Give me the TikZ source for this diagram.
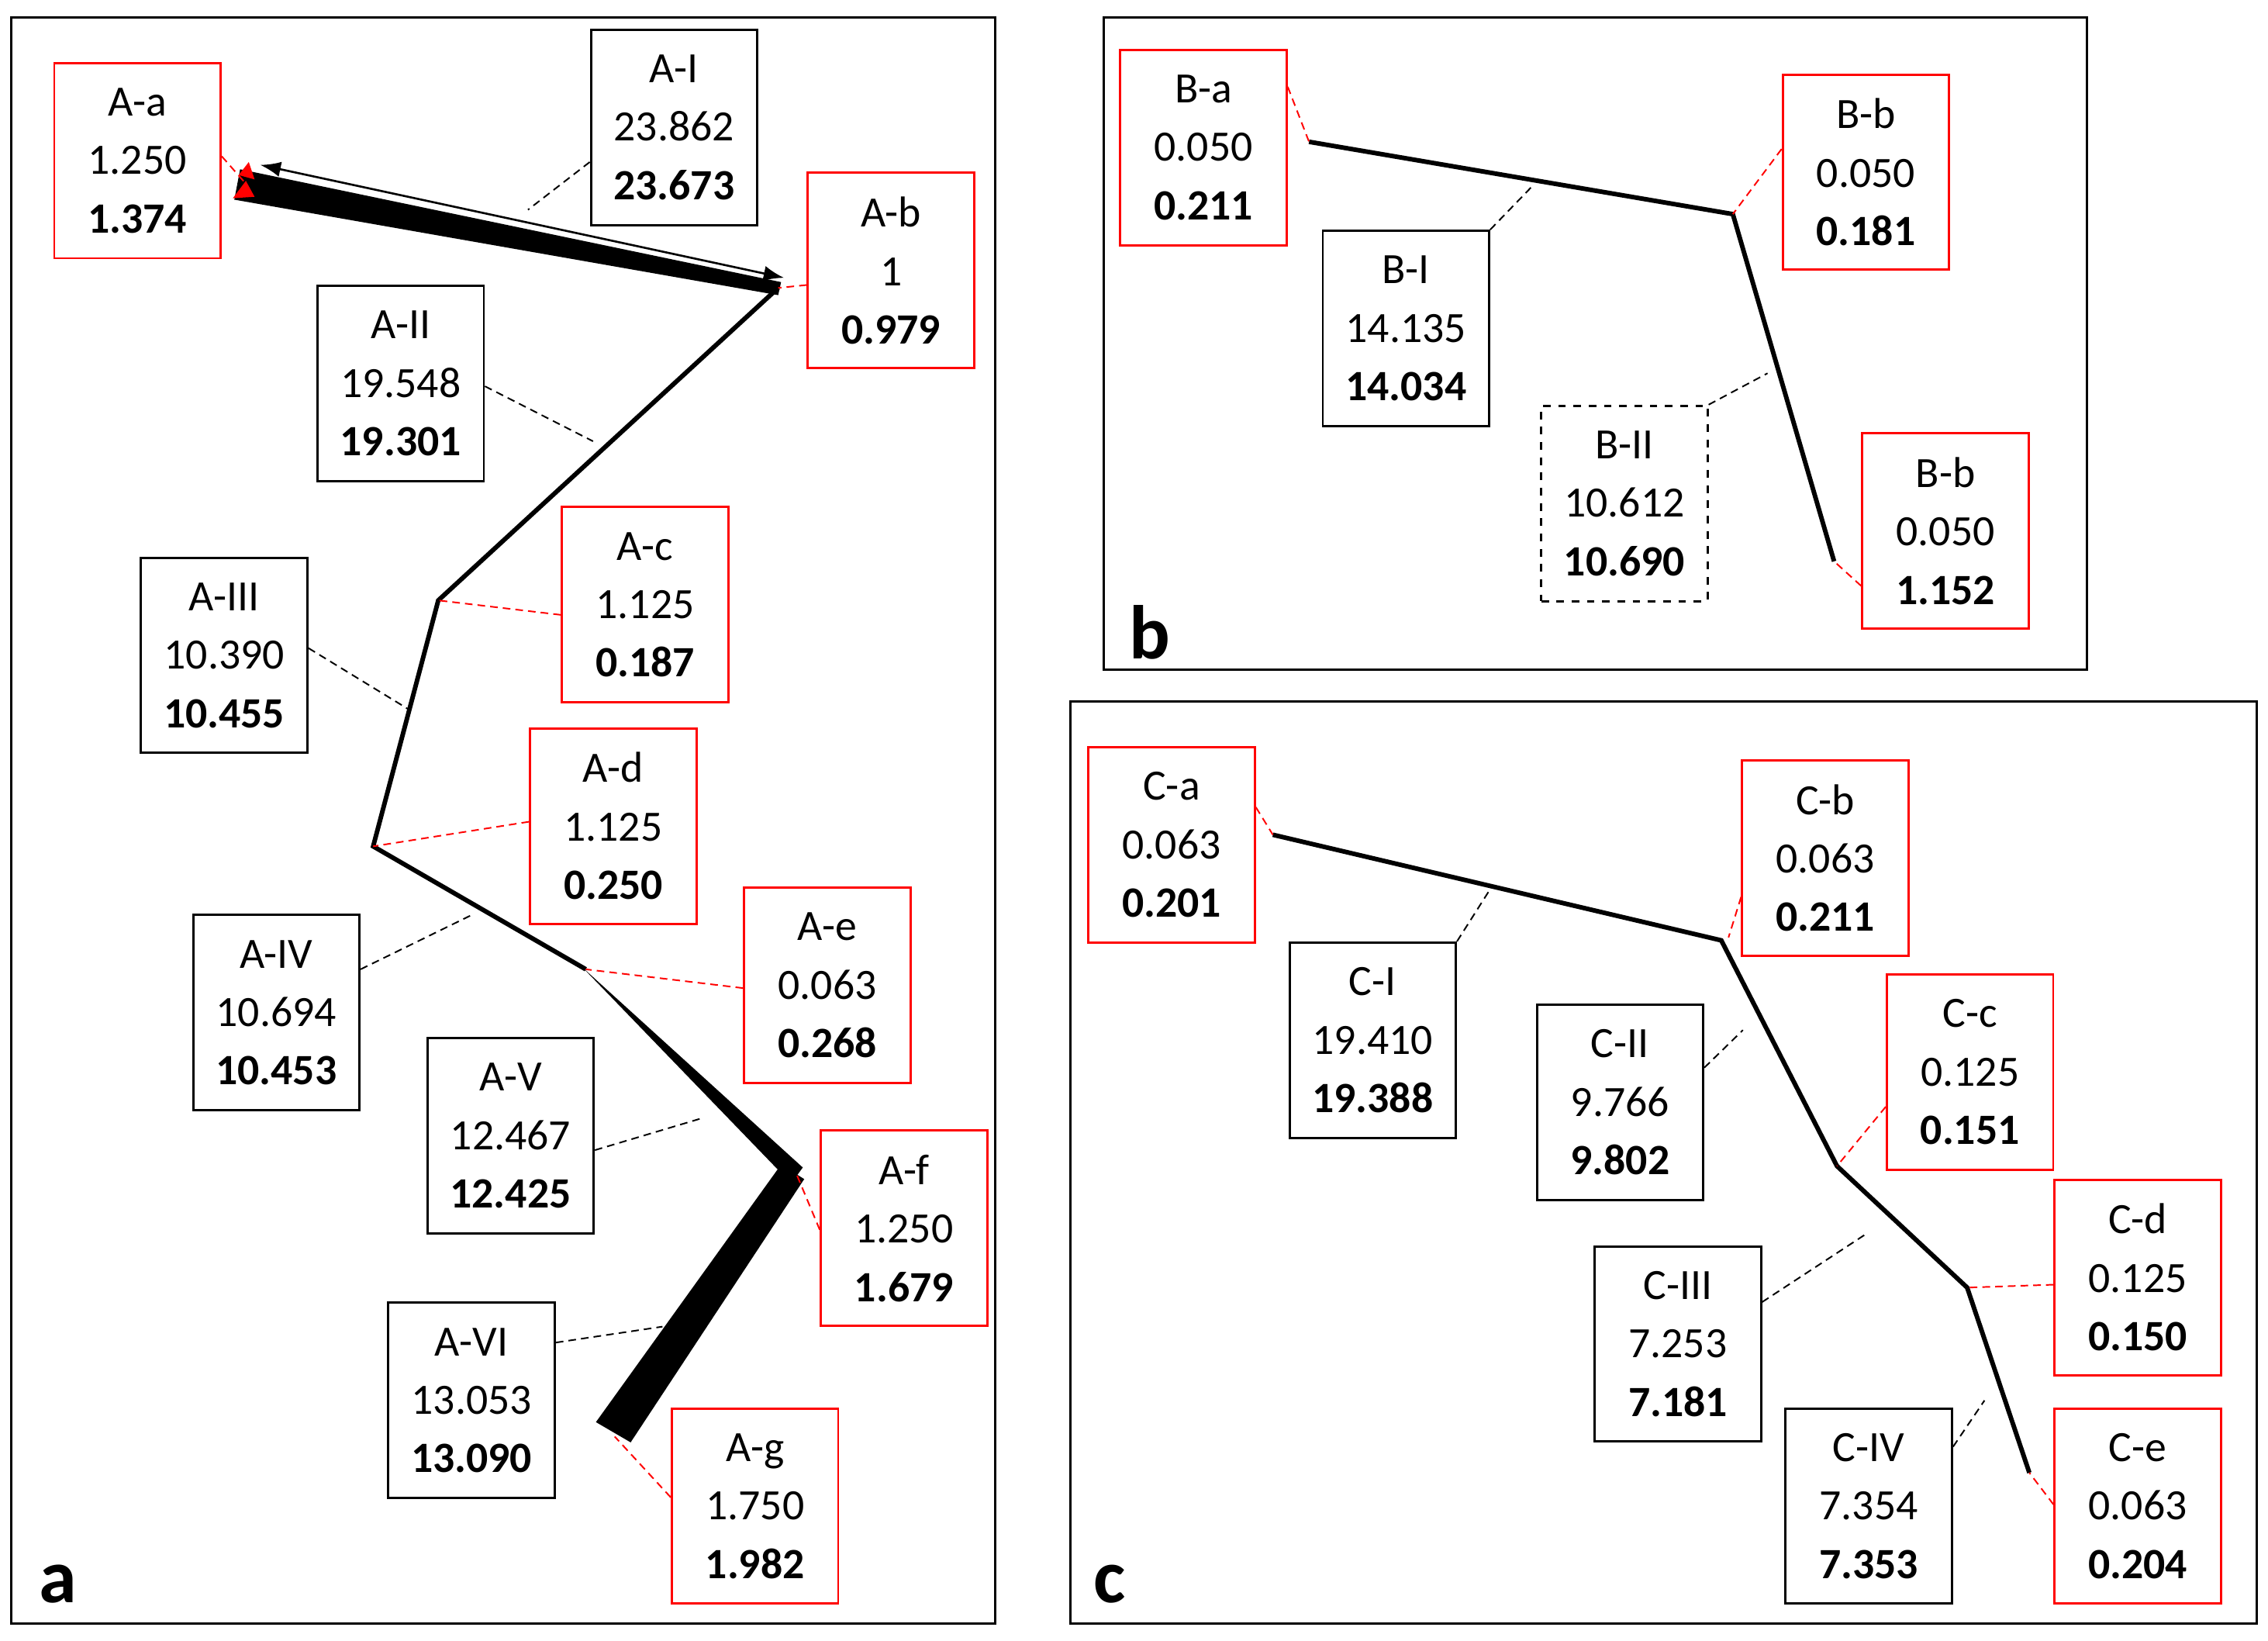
\documentclass[tikz,border=0pt]{standalone}
\usepackage{fontspec}
\setmainfont{Carlito}
\usetikzlibrary{positioning, arrows.meta}

\tikzset{
    box/.style={draw, line width=0.9pt, minimum width=2.3cm, minimum height=2.7cm, align=center, font=\fontsize{17}{23}\selectfont},
    rbox/.style={box, draw=red},
    lead/.style={densely dashed, line width=0.6pt},
    rlead/.style={lead, red},
    route/.style={line width=1.8pt},
    frame/.style={draw, line width=0.9pt},
}
\newcommand{\lbl}[3]{#1\\#2\\\textbf{#3}}

\begin{document}
\begin{tikzpicture}[x=0.02cm, y=-0.02cm]
    \useasboundingbox (0,0) rectangle (1568,1134);
    % frames
    \draw[frame] (8,12) rectangle (688,1122);
    \draw[frame] (763,12) rectangle (1443,463);
    \draw[frame] (740,485) rectangle (1560,1122);
    \node[font=\fontsize{30}{30}\selectfont\bfseries] (la) at (40,1095) {a};
    \node[font=\fontsize{30}{30}\selectfont\bfseries] (lb) at (795,437) {b};
    \node[font=\fontsize{30}{30}\selectfont\bfseries] (lc) at (767,1095) {c};

    % panel a
    \coordinate (pa1) at (170,127);
    \coordinate (pa2) at (538,199);
    \coordinate (pa3) at (303,415);
    \coordinate (pa4) at (258,585);
    \coordinate (pa5) at (405,670);
    \coordinate (pa6) at (550,810);
    \coordinate (pa7) at (425,990);
    \fill (166,117) -- (540,195) -- (538,204) -- (162,138) -- cycle;
    \draw[line width=0.8pt, {Latex[length=8pt]}-{Latex[length=8pt]}] (180,114) -- (542,192);
    \fill[red] (172,112) -- (176,124) -- (165,121) -- cycle;
    \fill[red] (170,125) -- (176,136) -- (161,137) -- cycle;
    \draw[route] (pa2) -- (pa3) -- (pa4) -- (pa5);
    \fill (403,669) -- (555,807) -- (547,818) -- cycle;
    \fill (540,805) -- (556,815) -- (436,997) -- (412,983) -- cycle;

    \node[rbox] (Aa) at (95,111) {\lbl{A-a}{1.250}{1.374}};
    \node[box] (AI) at (466,88) {\lbl{A-I}{23.862}{23.673}};
    \node[rbox] (Ab) at (616,187) {\lbl{A-b}{1}{0.979}};
    \node[box] (AII) at (277,265) {\lbl{A-II}{19.548}{19.301}};
    \node[rbox] (Ac) at (446,418) {\lbl{A-c}{1.125}{0.187}};
    \node[box] (AIII) at (155,453) {\lbl{A-III}{10.390}{10.455}};
    \node[rbox] (Ad) at (424,571) {\lbl{A-d}{1.125}{0.250}};
    \node[rbox] (Ae) at (572,681) {\lbl{A-e}{0.063}{0.268}};
    \node[box] (AIV) at (191,700) {\lbl{A-IV}{10.694}{10.453}};
    \node[box] (AV) at (353,785) {\lbl{A-V}{12.467}{12.425}};
    \node[rbox] (Af) at (625,849) {\lbl{A-f}{1.250}{1.679}};
    \node[box] (AVI) at (326,968) {\lbl{A-VI}{13.053}{13.090}};
    \node[rbox] (Ag) at (522,1041) {\lbl{A-g}{1.750}{1.982}};

    \coordinate (qa1) at (365,145);
    \coordinate (qa2) at (410,305);
    \coordinate (qa3) at (282,490);
    \coordinate (qa4) at (325,633);
    \coordinate (qa5) at (485,773);
    \coordinate (qa6) at (458,917);
    \draw[rlead] (Aa.east |- 0,108) -- (pa1);
    \draw[lead] (AI.west |- 0,112) -- (qa1);
    \draw[rlead] (Ab.west |- 0,197) -- (pa2);
    \draw[lead] (AII.east |- 0,267) -- (qa2);
    \draw[rlead] (Ac.west |- 0,425) -- (pa3);
    \draw[lead] (AIII.east |- 0,448) -- (qa3);
    \draw[rlead] (Ad.west |- 0,568) -- (pa4);
    \draw[lead] (AIV.east |- 0,670) -- (qa4);
    \draw[rlead] (Ae.west |- 0,683) -- (pa5);
    \draw[lead] (AV.east |- 0,795) -- (qa5);
    \draw[rlead] (Af.west |- 0,850) -- (pa6);
    \draw[lead] (AVI.east |- 0,928) -- (qa6);
    \draw[rlead] (Ag.west |- 0,1035) -- (425,993);

    % panel b
    \coordinate (pb1) at (905,98);
    \coordinate (pb2) at (1198,148);
    \coordinate (pb3) at (1268,388);
    \draw[route] (pb1) -- (pb2) -- (pb3);
    \node[rbox] (Ba) at (832,102) {\lbl{B-a}{0.050}{0.211}};
    \node[rbox] (Bb) at (1290,119) {\lbl{B-b}{0.050}{0.181}};
    \node[box] (BI) at (972,227) {\lbl{B-I}{14.135}{14.034}};
    \node[box, dashed] (BII) at (1123,348) {\lbl{B-II}{10.612}{10.690}};
    \node[rbox] (Bc) at (1345,367) {\lbl{B-b}{0.050}{1.152}};
    \draw[rlead] (Ba.east |- 0,60) -- (pb1);
    \draw[lead] (BI.north east) -- (1060,128);
    \draw[lead] (BII.north east) -- (1222,258);
    \draw[rlead] (Bb.west |- 0,103) -- (pb2);
    \draw[rlead] (Bc.west |- 0,405) -- (pb3);

    % panel c
    \coordinate (pc1) at (880,577);
    \coordinate (pc2) at (1190,650);
    \coordinate (pc3) at (1270,806);
    \coordinate (pc4) at (1360,890);
    \coordinate (pc5) at (1403,1018);
    \draw[route] (pc1) -- (pc2) -- (pc3) -- (pc4) -- (pc5);
    \node[rbox] (Ca) at (810,584) {\lbl{C-a}{0.063}{0.201}};
    \node[rbox] (Cb) at (1262,593) {\lbl{C-b}{0.063}{0.211}};
    \node[box] (CI) at (949,719) {\lbl{C-I}{19.410}{19.388}};
    \node[box] (CII) at (1120,762) {\lbl{C-II}{9.766}{9.802}};
    \node[rbox] (Cc) at (1362,741) {\lbl{C-c}{0.125}{0.151}};
    \node[rbox] (Cd) at (1478,883) {\lbl{C-d}{0.125}{0.150}};
    \node[box] (CIII) at (1160,929) {\lbl{C-III}{7.253}{7.181}};
    \node[box] (CIV) at (1292,1041) {\lbl{C-IV}{7.354}{7.353}};
    \node[rbox] (Ce) at (1478,1041) {\lbl{C-e}{0.063}{0.204}};
    \draw[rlead] (Ca.east |- 0,558) -- (pc1);
    \draw[lead] (CI.north east) -- (1030,615);
    \draw[rlead] (Cb.west |- 0,620) -- (1195,648);
    \draw[lead] (CII.east |- 0,738) -- (1205,712);
    \draw[rlead] (Cc.west |- 0,765) -- (pc3);
    \draw[lead] (CIII.east |- 0,900) -- (1290,853);
    \draw[rlead] (Cd.west |- 0,888) -- (pc4);
    \draw[lead] (CIV.east |- 0,1000) -- (1372,968);
    \draw[rlead] (Ce.west |- 0,1040) -- (pc5);
\end{tikzpicture}
\end{document}
